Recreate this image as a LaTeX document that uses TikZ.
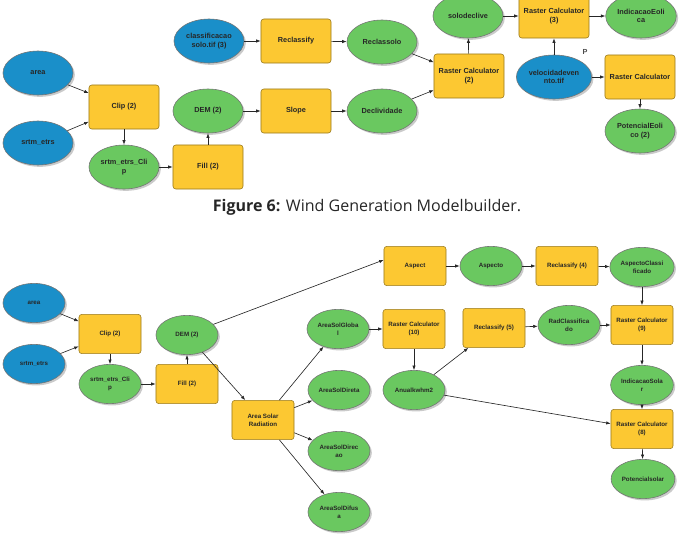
\documentclass[tikz,border=0pt]{standalone}
\usepackage{fontspec}
\setmainfont{Liberation Sans}
\newfontfamily\capfont{Open Sans}
\usetikzlibrary{arrows.meta,shadows,shapes.geometric}
\definecolor{toolyellow}{RGB}{252,200,50}
\definecolor{datagreen}{RGB}{106,200,96}
\definecolor{inputblue}{RGB}{26,143,201}
\tikzset{
  tool/.style={rectangle, draw=toolyellow!60!black, fill=toolyellow, rounded corners=2pt, align=center, text=black!85},
  data/.style={ellipse, draw=black!55, fill=datagreen, align=center, inner sep=1pt, text=black!85,
    drop shadow={shadow xshift=1.3pt, shadow yshift=-1.3pt, fill=black!35, opacity=0.6}},
  input/.style={data, fill=inputblue},
  wind/.style={minimum width=1.75cm, minimum height=1.1cm, font=\bfseries\fontsize{5.2}{5.9}\selectfont},
  solar/.style={minimum width=1.55cm, minimum height=0.98cm, font=\bfseries\fontsize{4.4}{5.7}\selectfont},
  flow/.style={-{Latex[length=3.2pt,width=2.4pt]}, line width=0.45pt, black!85}
}
\begin{document}
\begin{tikzpicture}[x=0.025cm, y=-0.025cm]
\useasboundingbox (0,0) rectangle (686,540);

\node[input, wind] (wArea) at (38,73) {area};
\node[input, wind] (wSrtm) at (38,143) {srtm\_etrs};
\node[tool, wind] (wClip) at (124,107) {Clip (2)};
\node[data, wind] (wSrtmClip) at (124,167) {srtm\_etrs\_Cli\\p};
\node[tool, wind] (wFill) at (208,167) {Fill (2)};
\node[data, wind] (wDem) at (208,111) {DEM (2)};
\node[input, wind] (wSolo) at (209,41) {classificacao\\solo.tif (3)};
\node[tool, wind] (wReclass) at (296,41) {Reclassify};
\node[tool, wind] (wSlope) at (296,111) {Slope};
\node[data, wind] (wReclassolo) at (382,42) {Reclassolo};
\node[data, wind] (wDecliv) at (382,111) {Declividade};
\node[tool, wind] (wRc2) at (469,76) {Raster Calculator\\(2)};
\node[data, wind] (wSoloDecl) at (468,16) {solodeclive};
\node[tool, wind] (wRc3) at (554,16) {Raster Calculator\\(3)};
\node[data, wind] (wIndic) at (641,16) {IndicacaoEoli\\ca};
\node[input, wind] (wVeloc) at (554,77) {velocidadeven\\nto.tif};
\node[font=\bfseries\fontsize{5.2}{6}\selectfont, text=black!70] (wP) at (585,52) {P};
\node[tool, wind] (wRc) at (640,77) {Raster Calculator};
\node[data, wind] (wPotenc) at (640,131) {PotencialEoli\\co (2)};

\draw[flow] (wArea) -- (wClip);
\draw[flow] (wSrtm) -- (wClip);
\draw[flow] (wClip) -- (wSrtmClip);
\draw[flow] (wSrtmClip) -- (wFill);
\draw[flow] (wFill) -- (wDem);
\draw[flow] (wDem) -- (wSlope);
\draw[flow] (wSlope) -- (wDecliv);
\draw[flow] (wSolo) -- (wReclass);
\draw[flow] (wReclass) -- (wReclassolo);
\draw[flow] (wReclassolo) -- (wRc2);
\draw[flow] (wDecliv) -- (wRc2);
\draw[flow] (wRc2) -- (wSoloDecl);
\draw[flow] (wSoloDecl) -- (wRc3);
\draw[flow] (wVeloc) -- (wRc3);
\draw[flow] (wRc3) -- (wIndic);
\draw[flow] (wVeloc) -- (wRc);
\draw[flow] (wRc) -- (wPotenc);

\node[font=\capfont\fontsize{11.4}{13}\selectfont, text=black!85] (caption) at (367,207) {\textbf{Figure 6:} Wind Generation Modelbuilder.};

\node[input, solar] (sArea) at (34,303) {area};
\node[input, solar] (sSrtm) at (34,364) {srtm\_etrs};
\node[tool, solar] (sClip) at (110,334) {Clip (2)};
\node[data, solar] (sSrtmClip) at (110,384) {srtm\_etrs\_Cli\\p};
\node[tool, solar] (sFill) at (187,384) {Fill (2)};
\node[data, solar] (sDem) at (187,335) {DEM (2)};
\node[tool, solar] (sRadiation) at (263,420) {Area Solar\\Radiation};
\node[data, solar] (sGlobal) at (338,329) {AreaSolGloba\\l};
\node[data, solar] (sDireta) at (339,390) {AreaSolDireta};
\node[data, solar] (sDirecao) at (339,451) {AreaSolDirec\\ao};
\node[data, solar] (sDifusa) at (339,512) {AreaSolDifus\\a};
\node[tool, solar] (sRc10) at (414,329) {Raster Calculator\\(10)};
\node[data, solar] (sAnual) at (414,390) {Anualkwhm2};
\node[tool, solar] (sAspect) at (415,266) {Aspect};
\node[data, solar] (sAspecto) at (491,266) {Aspecto};
\node[tool, solar] (sReclass4) at (567,266) {Reclassify (4)};
\node[data, solar] (sAspClass) at (642,267) {AspectoClassi\\ficado};
\node[tool, solar] (sReclass5) at (494,328) {Reclassify (5)};
\node[data, solar] (sRadClass) at (569,325) {RadClassifica\\do};
\node[tool, solar] (sRc9) at (642,325) {Raster Calculator\\(9)};
\node[data, solar] (sIndic) at (642,385) {IndicacaoSola\\r};
\node[tool, solar] (sRc8) at (642,429) {Raster Calculator\\(8)};
\node[data, solar] (sPotenc) at (643,479) {Potencialsolar};

\draw[flow] (sArea) -- (sClip);
\draw[flow] (sSrtm) -- (sClip);
\draw[flow] (sClip) -- (sSrtmClip);
\draw[flow] (sSrtmClip) -- (sFill);
\draw[flow] (sFill) -- (sDem);
\draw[flow] (sDem.22) -- (sAspect.169);
\draw[flow] (sDem) -- (sRadiation);
\draw[flow] (sRadiation) -- (sGlobal);
\draw[flow] (sRadiation) -- (sDireta);
\draw[flow] (sRadiation) -- (sDirecao);
\draw[flow] (sRadiation) -- (sDifusa);
\draw[flow] (sGlobal) -- (sRc10);
\draw[flow] (sRc10) -- (sAnual);
\draw[flow] (sAnual) -- (sReclass5);
\draw[flow] (sAnual) -- (sRc8);
\draw[flow] (sAspect) -- (sAspecto);
\draw[flow] (sAspecto) -- (sReclass4);
\draw[flow] (sReclass4) -- (sAspClass);
\draw[flow] (sAspClass) -- (sRc9);
\draw[flow] (sReclass5) -- (sRadClass);
\draw[flow] (sRadClass) -- (sRc9);
\draw[flow] (sRc9) -- (sIndic);
\draw[flow] (sIndic) -- (sRc8);
\draw[flow] (sRc8) -- (sPotenc);
\end{tikzpicture}
\end{document}
